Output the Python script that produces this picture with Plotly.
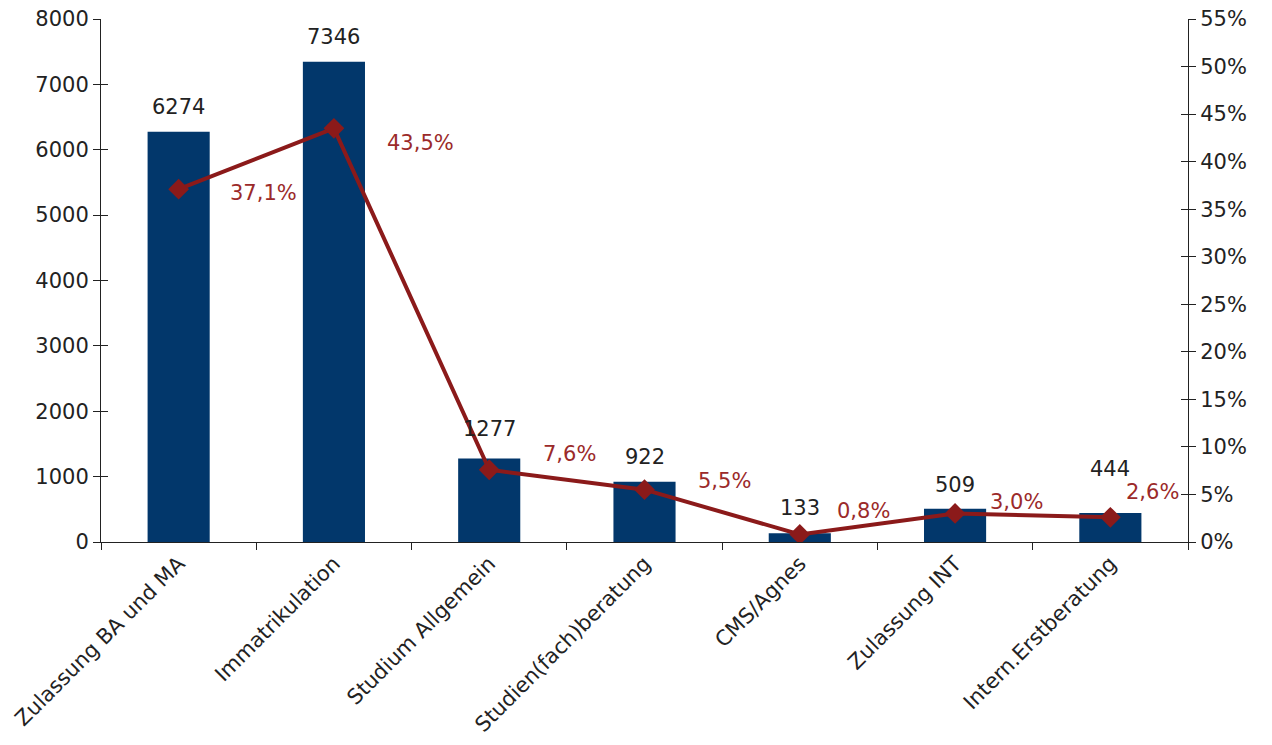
import plotly.graph_objects as go

categories = ["Zulassung BA und MA", "Immatrikulation", "Studium Allgemein",
              "Studien(fach)beratung", "CMS/Agnes", "Zulassung INT", "Intern.Erstberatung"]
counts = [6274, 7346, 1277, 922, 133, 509, 444]
shares = [37.1, 43.5, 7.6, 5.5, 0.8, 3.0, 2.6]
share_labels = ["37,1%", "43,5%", "7,6%", "5,5%", "0,8%", "3,0%", "2,6%"]
y_ticks = [0, 1000, 2000, 3000, 4000, 5000, 6000, 7000, 8000]
pct_ticks = [0, 5, 10, 15, 20, 25, 30, 35, 40, 45, 50, 55]

# label offsets (pixels), styling only; positive dy = upwards
label_dx = [49, 51, 52, 51, 35, 33, 14]
label_dy = [-4, -15, 16, 9, 23, 11, 25]
count_dy = [15, 15, 20, 15, 15, 14, 34]

BAR = "#02376b"
LINE = "#8b1a1a"
FONT = "DejaVu Sans"
FS = 21

fig = go.Figure()
fig.add_trace(go.Bar(
    x=categories, y=counts, marker=dict(color=BAR, line=dict(width=0)),
    yaxis="y", showlegend=False))
fig.add_trace(go.Scatter(
    x=categories, y=shares, mode="lines+markers", yaxis="y2",
    line=dict(color=LINE, width=4),
    marker=dict(symbol="diamond", size=16, color=LINE), showlegend=False))
# helper traces so crossing ticks (inside part) get drawn
fig.add_trace(go.Scatter(x=[categories[0]], y=[0], yaxis="y3", mode="markers",
                         marker=dict(opacity=0), showlegend=False, hoverinfo="skip"))
fig.add_trace(go.Scatter(x=[categories[0]], y=[0], yaxis="y4", mode="markers",
                         marker=dict(opacity=0), showlegend=False, hoverinfo="skip"))

for i, (c, v) in enumerate(zip(categories, counts)):
    fig.add_annotation(x=c, y=v, yref="y", text=str(v), showarrow=False,
                       xanchor="center", yanchor="bottom", yshift=count_dy[i] - 4,
                       font=dict(family=FONT, size=FS, color="#222"))

for i, (c, s, lab) in enumerate(zip(categories, shares, share_labels)):
    fig.add_annotation(x=c, y=s, yref="y2", text=lab, showarrow=False,
                       xanchor="left", yanchor="middle",
                       xshift=label_dx[i], yshift=label_dy[i],
                       font=dict(family=FONT, size=FS, color="#9b2a2a"))

tickfont = dict(family=FONT, size=FS, color="#222")
fig.update_layout(
    width=1272, height=745,
    margin=dict(l=93, r=92, t=11, b=211, autoexpand=False),
    plot_bgcolor="white", paper_bgcolor="white",
    bargap=0.6,
    font=dict(family=FONT, size=FS, color="#222"),
    xaxis=dict(type="category", showgrid=False, showline=True, linecolor="#222",
               linewidth=1, ticks="outside", tickson="boundaries", ticklen=7,
               tickcolor="#222", tickangle=-45, tickfont=tickfont),
    yaxis=dict(range=[0, 8000], tickvals=y_ticks, showgrid=False, showline=True,
               linecolor="#222", ticks="outside", ticklen=7, tickcolor="#222",
               tickfont=tickfont, zeroline=False, ticklabeloverflow="allow"),
    yaxis2=dict(range=[0, 55], tickvals=pct_ticks, ticktext=[f"{v}%" for v in pct_ticks],
                overlaying="y", side="right", showgrid=False, showline=True,
                linecolor="#222", ticks="outside", ticklen=7, tickcolor="#222",
                tickfont=tickfont, zeroline=False, ticklabeloverflow="allow"),
    yaxis3=dict(range=[0, 8000], tickvals=y_ticks, overlaying="y", side="left",
                showgrid=False, showline=False, ticks="inside", ticklen=7,
                tickcolor="#222", showticklabels=False, zeroline=False),
    yaxis4=dict(range=[0, 55], tickvals=pct_ticks, overlaying="y", side="right",
                showgrid=False, showline=False, ticks="inside", ticklen=7,
                tickcolor="#222", showticklabels=False, zeroline=False),
)
fig.write_html("out.html")
